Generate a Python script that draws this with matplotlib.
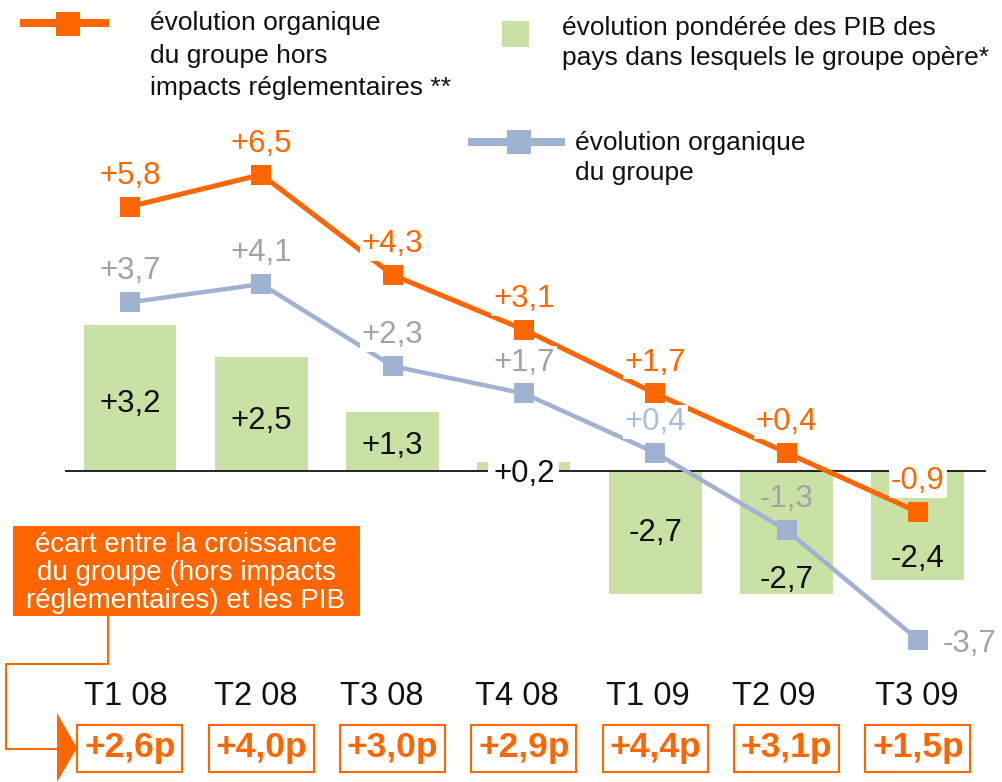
import matplotlib
matplotlib.use('Agg')
import matplotlib.pyplot as plt
from matplotlib.patches import Rectangle, Polygon
from matplotlib.lines import Line2D

# ---- data ----
categories = ['T1 08', 'T2 08', 'T3 08', 'T4 08', 'T1 09', 'T2 09', 'T3 09']
pib = [3.2, 2.5, 1.3, 0.2, -2.7, -2.7, -2.4]
org_hors = [5.8, 6.5, 4.3, 3.1, 1.7, 0.4, -0.9]
org = [3.7, 4.1, 2.3, 1.7, 0.4, -1.3, -3.7]
ecart = ['+2,6p', '+4,0p', '+3,0p', '+2,9p', '+4,4p', '+3,1p', '+1,5p']

leg_orange = ['évolution organique', 'du groupe hors', 'impacts réglementaires **']
leg_green = ['évolution pondérée des PIB des', 'pays dans lesquels le groupe opère*']
leg_blue = ['évolution organique', 'du groupe']
box_text = ['écart entre la croissance', 'du groupe (hors impacts', 'réglementaires) et les PIB']

# ---- style ----
plt.rcParams['font.family'] = ['Liberation Sans', 'DejaVu Sans']
ORANGE = '#ff6600'
BLUE = '#9fb2d2'
GREEN = '#c9e1a5'
GREY = '#a3a3a3'
LBLUE = '#a9bfd8'

bar_label_frac = [0.48, 0.47, 0.47, 0.0, 0.48, 0.86, 0.78]
blue_label_colors = [GREY, GREY, GREY, GREY, LBLUE, GREY, GREY]
blue_label_bg = [True, True, True, True, True, False, False]
orange_label_bg = [False, False, True, True, True, True, True]
cat_dx_px = [-4, -6, -11, -7, -8, -13, -1]

W, H = 1003, 782
PXX = 131.33   # px per category
PXY = 45.6     # px per unit
X0, Y0 = 130, 471
LBL = 22.5


def fmt(v):
    return ('+' if v > 0 else '') + f'{v:.1f}'.replace('.', ',')


def fx(x):
    return x / W


def fy(y):
    return 1 - y / H


fig = plt.figure(figsize=(W / 100, H / 100), dpi=100)
ax = fig.add_axes([0, 0, 1, 1])
ax.set_xlim(-X0 / PXX, (W - X0) / PXX)
ax.set_ylim(-(H - Y0) / PXY, Y0 / PXY)
ax.axis('off')

xs = list(range(len(categories)))
ax.bar(xs, pib, width=0.708, color=GREEN, zorder=1)
ax.hlines(0, (65 - X0) / PXX, (986 - X0) / PXX, color='black', lw=1.2, zorder=2)
ax.plot(xs, org_hors, color=ORANGE, lw=3.6, marker='s', ms=14.4, mew=0, zorder=3)
ax.plot(xs, org, color=BLUE, lw=3.2, marker='s', ms=14.4, mew=0, zorder=3)

bgbox = dict(boxstyle='square,pad=0.06', fc='white', ec='none')

for i, v in enumerate(org_hors):
    ax.annotate(fmt(v), (i, v), xytext=(0, 16.5), textcoords='offset points',
                ha='center', va='baseline', color=ORANGE, fontsize=LBL,
                bbox=bgbox if orange_label_bg[i] else None, zorder=6)

for i, v in enumerate(org):
    if i == len(org) - 1:
        ax.annotate(fmt(v), (i, v), xytext=(18, -8.6), textcoords='offset points',
                    ha='left', va='baseline', color=blue_label_colors[i], fontsize=LBL, zorder=5)
    else:
        ax.annotate(fmt(v), (i, v), xytext=(0, 16.5), textcoords='offset points',
                    ha='center', va='baseline', color=blue_label_colors[i], fontsize=LBL,
                    bbox=bgbox if blue_label_bg[i] else None, zorder=5)

for i, v in enumerate(pib):
    ax.annotate(fmt(v), (i, v * bar_label_frac[i]), xytext=(0, -8.0), textcoords='offset points',
                ha='center', va='baseline', color='#111111', fontsize=LBL,
                bbox=dict(boxstyle='square,pad=0.15', fc='white', ec='none') if bar_label_frac[i] == 0 else None,
                zorder=4)

for i, c in enumerate(categories):
    ax.text(i + cat_dx_px[i] / PXX, (Y0 - 705) / PXY, c, ha='center', va='baseline',
            fontsize=23.5, color='#111111')

for i, t in enumerate(ecart):
    ax.add_patch(Rectangle((i - 0.4, (Y0 - 772) / PXY), 105 / PXX, 47 / PXY,
                           fc='white', ec=ORANGE, lw=1.5, zorder=3))
    ax.text(i, (Y0 - 757) / PXY, t, ha='center', va='baseline', fontsize=25.5,
            fontweight='bold', color=ORANGE, zorder=4)

# ---- legend ----
fig.add_artist(Line2D([fx(24), fx(105)], [fy(23)] * 2, color=ORANGE, lw=5.8, transform=fig.transFigure))
fig.add_artist(Line2D([fx(68)], [fy(23.5)], marker='s', ms=17, mew=0, color=ORANGE, transform=fig.transFigure))
for k, line in enumerate(leg_orange):
    fig.text(fx(150), fy(30 + 32.5 * k), line, fontsize=19, va='baseline', ha='left', color='#111111')

fig.add_artist(Rectangle((fx(502), fy(47)), 27 / W, 26 / H, fc=GREEN, ec='none', transform=fig.transFigure))
for k, line in enumerate(leg_green):
    fig.text(fx(562), fy(35 + 30 * k), line, fontsize=19, va='baseline', ha='left', color='#111111')

fig.add_artist(Line2D([fx(472), fx(561)], [fy(142)] * 2, color=BLUE, lw=5.8, transform=fig.transFigure))
fig.add_artist(Line2D([fx(519.5)], [fy(141.5)], marker='s', ms=17, mew=0, color=BLUE, transform=fig.transFigure))
for k, line in enumerate(leg_blue):
    fig.text(fx(575), fy(150 + 30 * k), line, fontsize=19, va='baseline', ha='left', color='#111111')

# ---- annotation box ----
fig.add_artist(Rectangle((fx(13), fy(616)), 347 / W, 90 / H, fc=ORANGE, ec='none', transform=fig.transFigure))
for k, line in enumerate(box_text):
    fig.text(fx(186), fy(552 + 28 * k), line, fontsize=20, va='baseline', ha='center', color='white')

fig.add_artist(Line2D([fx(108), fx(108), fx(6), fx(6), fx(57)],
                      [fy(617), fy(664), fy(664), fy(749), fy(749)],
                      color=ORANGE, lw=1.5, transform=fig.transFigure))
fig.add_artist(Polygon([(fx(57), fy(713)), (fx(77), fy(748)), (fx(57), fy(782))], closed=True,
                       fc=ORANGE, ec='none', transform=fig.transFigure))

fig.savefig('out.png', dpi=100)
